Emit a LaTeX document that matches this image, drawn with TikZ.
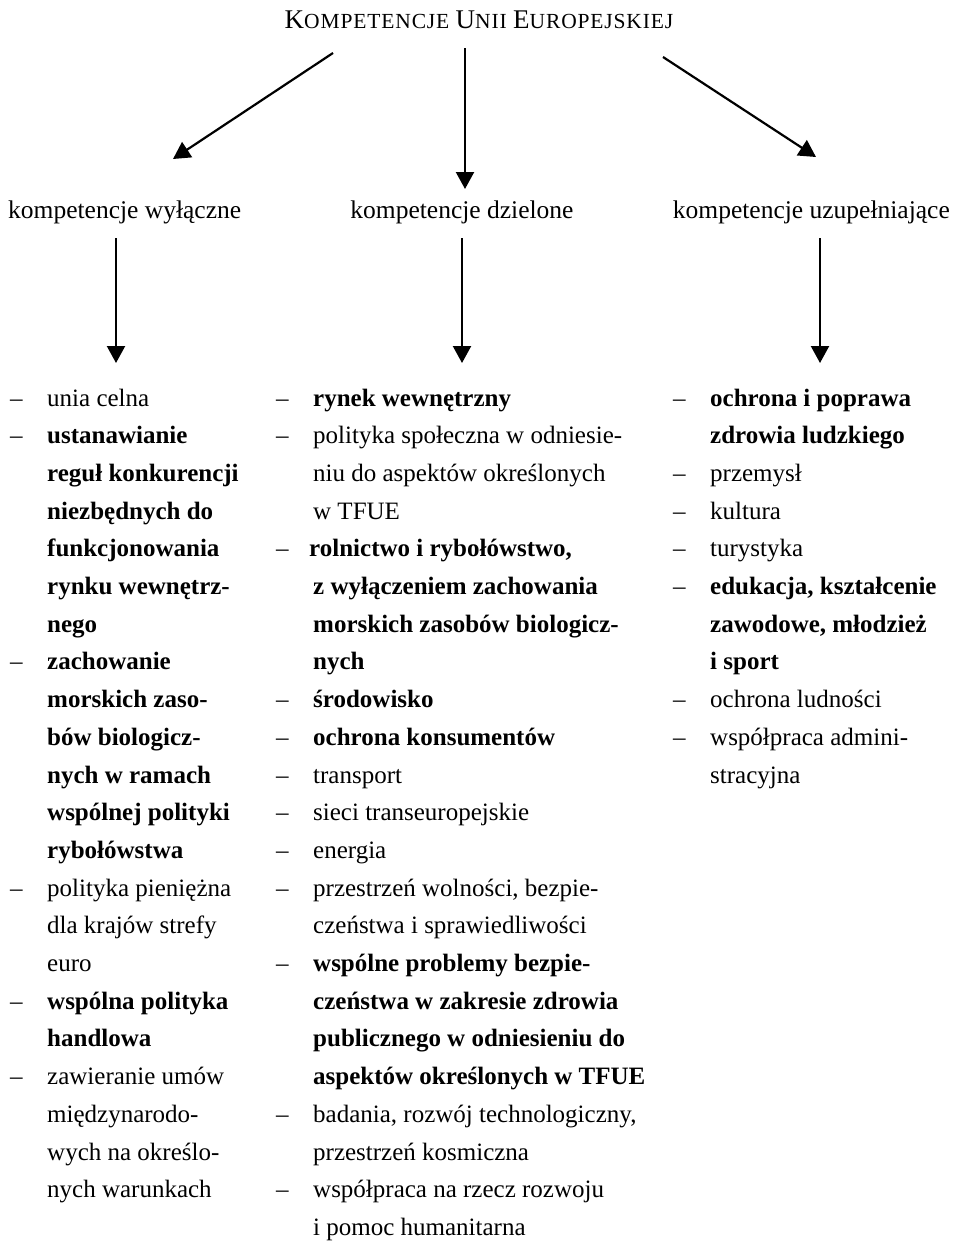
\documentclass[tikz,border=0pt]{standalone}
\usepackage{fontspec}
\usepackage{array}
\setmainfont{Liberation Serif}
\newfontfamily\titlefont[LetterSpace=4]{Liberation Serif}
\usetikzlibrary{arrows.meta}

\newcommand{\tsc}[2]{{\fontsize{27}{27}\selectfont#1}{\fontsize{21.5}{21.5}\selectfont#2}}
\newcommand{\dsh}{–}

\tikzset{
  arr/.style={line width=2.2pt,-{Triangle[length=17pt,width=18pt]}},
  head/.style={inner sep=0pt,font=\fontsize{25.5}{30}\selectfont},
  listcol/.style={inner sep=0pt,anchor=base west,font=\fontsize{25}{37.7}\selectfont}
}

\begin{document}
\begin{tikzpicture}[x=1pt,y=-1pt]
\useasboundingbox (0,0) rectangle (955,1242);

% title and the three kinds
\node[inner sep=0pt,anchor=base,font=\titlefont\fontsize{22}{22}\selectfont] (title) at (479,28)
  {\tsc{K}{OMPETENCJE} \tsc{U}{NII} \tsc{E}{UROPEJSKIEJ}};
\node[head,anchor=base west] (excl) at (8,218) {kompetencje wyłączne};
\node[head,anchor=base] (shared) at (462,218) {kompetencje dzielone};
\node[head,anchor=base east] (supp) at (950,218) {kompetencje uzupełniające};

\coordinate (tl) at (333,53);   \coordinate (hl) at (173,159);
\coordinate (tm) at (465,48);   \coordinate (hm) at (465,189);
\coordinate (tr) at (663,57);   \coordinate (hr) at (816,157);
\draw[arr] (tl) -- (hl);
\draw[arr] (tm) -- (hm);
\draw[arr] (tr) -- (hr);

\coordinate (el) at (116,238);  \coordinate (ll) at (116,363);
\coordinate (em) at (462,238);  \coordinate (lm) at (462,363);
\coordinate (er) at (820,238);  \coordinate (lr) at (820,363);
\draw[arr] (el) -- (ll);
\draw[arr] (em) -- (lm);
\draw[arr] (er) -- (lr);

% lists
\node[listcol] (exclList) at (10,406) {\begin{tabular}[t]{@{}p{37pt}@{}l@{}}
\dsh & unia celna\\
\dsh & \textbf{ustanawianie}\\
     & \textbf{reguł konkurencji}\\
     & \textbf{niezbędnych do}\\
     & \textbf{funkcjonowania}\\
     & \textbf{rynku wewnętrz-}\\
     & \textbf{nego}\\
\dsh & \textbf{zachowanie}\\
     & \textbf{morskich zaso-}\\
     & \textbf{bów biologicz-}\\
     & \textbf{nych w ramach}\\
     & \textbf{wspólnej polityki}\\
     & \textbf{rybołówstwa}\\
\dsh & polityka pieniężna\\
     & dla krajów strefy\\
     & euro\\
\dsh & \textbf{wspólna polityka}\\
     & \textbf{handlowa}\\
\dsh & zawieranie umów\\
     & międzynarodo-\\
     & wych na określo-\\
     & nych warunkach
\end{tabular}};

\node[listcol] (sharedList) at (276,406) {\begin{tabular}[t]{@{}p{37pt}@{}l@{}}
\dsh & \textbf{rynek wewnętrzny}\\
\dsh & polityka społeczna w odniesie-\\
     & niu do aspektów określonych\\
     & w TFUE\\
\dsh & \hspace*{-4pt}\textbf{rolnictwo i rybołówstwo,}\\
     & \textbf{z wyłączeniem zachowania}\\
     & \textbf{morskich zasobów biologicz-}\\
     & \textbf{nych}\\
\dsh & \textbf{środowisko}\\
\dsh & \textbf{ochrona konsumentów}\\
\dsh & transport\\
\dsh & sieci transeuropejskie\\
\dsh & energia\\
\dsh & przestrzeń wolności, bezpie-\\
     & czeństwa i sprawiedliwości\\
\dsh & \textbf{wspólne problemy bezpie-}\\
     & \textbf{czeństwa w zakresie zdrowia}\\
     & \textbf{publicznego w odniesieniu do}\\
     & \textbf{aspektów określonych w TFUE}\\
\dsh & badania, rozwój technologiczny,\\
     & przestrzeń kosmiczna\\
\dsh & współpraca na rzecz rozwoju\\
     & i pomoc humanitarna
\end{tabular}};

\node[listcol] (suppList) at (673,406) {\begin{tabular}[t]{@{}p{37pt}@{}l@{}}
\dsh & \textbf{ochrona i poprawa}\\
     & \textbf{zdrowia ludzkiego}\\
\dsh & przemysł\\
\dsh & kultura\\
\dsh & turystyka\\
\dsh & \textbf{edukacja, kształcenie}\\
     & \textbf{zawodowe, młodzież}\\
     & \textbf{i sport}\\
\dsh & ochrona ludności\\
\dsh & współpraca admini-\\
     & stracyjna
\end{tabular}};
\end{tikzpicture}
\end{document}
